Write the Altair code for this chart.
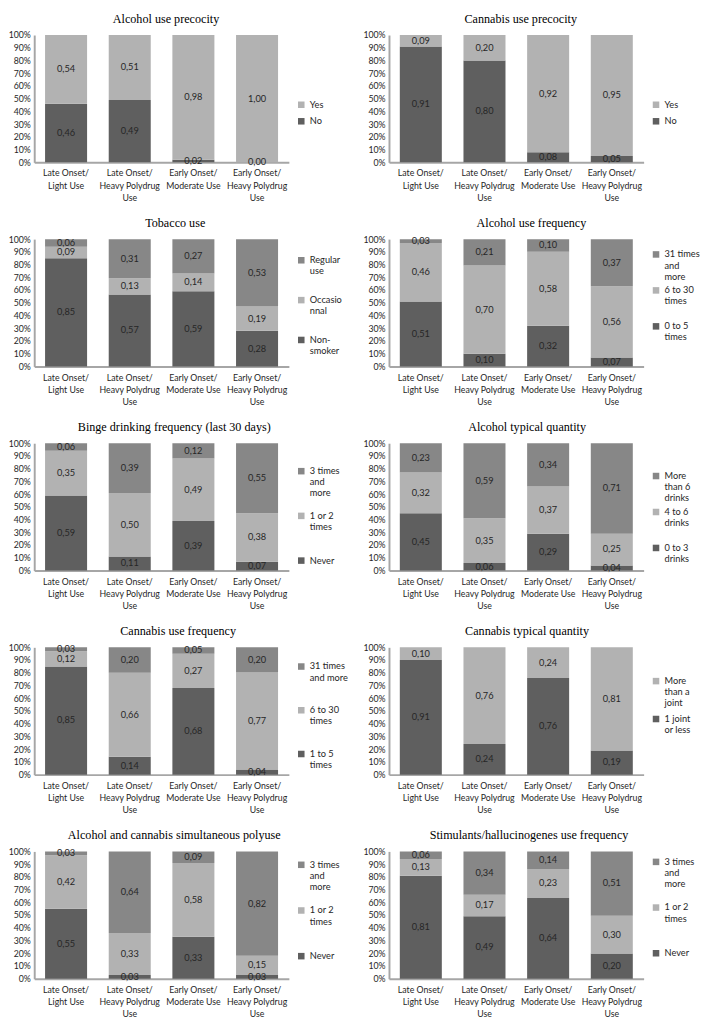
import altair as alt
import pandas as pd

# ---------------- data ----------------
groups = [
    "Late Onset/\nLight Use",
    "Late Onset/\nHeavy Polydrug\nUse",
    "Early Onset/\nModerate Use",
    "Early Onset/\nHeavy Polydrug\nUse",
]

# categories listed bottom -> top of the stack
alc_prec_title = "Alcohol use precocity"
alc_prec_cats = ["No", "Yes"]
alc_prec_vals = [[0.46, 0.49, 0.02, 0.00], [0.54, 0.51, 0.98, 1.00]]

can_prec_title = "Cannabis use precocity"
can_prec_cats = ["No", "Yes"]
can_prec_vals = [[0.91, 0.80, 0.08, 0.05], [0.09, 0.20, 0.92, 0.95]]

tob_title = "Tobacco use"
tob_cats = ["Non-\nsmoker", "Occasio\nnnal", "Regular\nuse"]
tob_vals = [[0.85, 0.57, 0.59, 0.28], [0.09, 0.13, 0.14, 0.19], [0.06, 0.31, 0.27, 0.53]]

alc_freq_title = "Alcohol use frequency"
alc_freq_cats = ["0 to 5\ntimes", "6 to 30\ntimes", "31 times\nand\nmore"]
alc_freq_vals = [[0.51, 0.10, 0.32, 0.07], [0.46, 0.70, 0.58, 0.56], [0.03, 0.21, 0.10, 0.37]]

binge_title = "Binge drinking frequency (last 30 days)"
binge_cats = ["Never", "1 or 2\ntimes", "3 times\nand\nmore"]
binge_vals = [[0.59, 0.11, 0.39, 0.07], [0.35, 0.50, 0.49, 0.38], [0.06, 0.39, 0.12, 0.55]]

alc_qty_title = "Alcohol typical quantity"
alc_qty_cats = ["0 to 3\ndrinks", "4 to 6\ndrinks", "More\nthan 6\ndrinks"]
alc_qty_vals = [[0.45, 0.06, 0.29, 0.04], [0.32, 0.35, 0.37, 0.25], [0.23, 0.59, 0.34, 0.71]]

can_freq_title = "Cannabis use frequency"
can_freq_cats = ["1 to 5\ntimes", "6 to 30\ntimes", "31 times\nand more"]
can_freq_vals = [[0.85, 0.14, 0.68, 0.04], [0.12, 0.66, 0.27, 0.77], [0.03, 0.20, 0.05, 0.20]]

can_qty_title = "Cannabis typical quantity"
can_qty_cats = ["1 joint\nor less", "More\nthan a\njoint"]
can_qty_vals = [[0.91, 0.24, 0.76, 0.19], [0.10, 0.76, 0.24, 0.81]]

poly_title = "Alcohol and cannabis simultaneous polyuse"
poly_cats = ["Never", "1 or 2\ntimes", "3 times\nand\nmore"]
poly_vals = [[0.55, 0.03, 0.33, 0.03], [0.42, 0.33, 0.58, 0.15], [0.03, 0.64, 0.09, 0.82]]

stim_title = "Stimulants/hallucinogenes use frequency"
stim_cats = ["Never", "1 or 2\ntimes", "3 times\nand\nmore"]
stim_vals = [[0.81, 0.49, 0.64, 0.20], [0.13, 0.17, 0.23, 0.30], [0.06, 0.34, 0.14, 0.51]]

y_ticks = [0.0, 0.1, 0.2, 0.3, 0.4, 0.5, 0.6, 0.7, 0.8, 0.9, 1.0]

panels = [
    (alc_prec_title, alc_prec_cats, alc_prec_vals),
    (can_prec_title, can_prec_cats, can_prec_vals),
    (tob_title, tob_cats, tob_vals),
    (alc_freq_title, alc_freq_cats, alc_freq_vals),
    (binge_title, binge_cats, binge_vals),
    (alc_qty_title, alc_qty_cats, alc_qty_vals),
    (can_freq_title, can_freq_cats, can_freq_vals),
    (can_qty_title, can_qty_cats, can_qty_vals),
    (poly_title, poly_cats, poly_vals),
    (stim_title, stim_cats, stim_vals),
]

# ---------------- style ----------------
DARK = "#5f5f5f"
LIGHT = "#b2b2b2"
MID = "#878787"
AXIS = "#a6a6a6"
TXT = "#262626"
FONT = "Lato"
W, H = 262, 131
LINE = 11
# legend placement per panel: first entry offset from plot top, entry pitch
leg_first = [72, 72, 22, 16, 29, 34, 20, 35, 14, 11]
leg_pitch = [17, 17, 41, 36, 45, 36, 45, 38, 46, 46]


def panel(i, title, cats, vals):
    rows = []
    for ci, (c, vs) in enumerate(zip(cats, vals)):
        for g, v in zip(groups, vs):
            rows.append({"group": g, "cat": c, "rank": ci, "value": v,
                         "label": f"{v:.2f}".replace(".", ",")})
    df = pd.DataFrame(rows)
    rng = [LIGHT, DARK] if len(cats) == 2 else [MID, LIGHT, DARK]
    domain = list(reversed(cats))
    maxlines = max(c.count("\n") + 1 for c in cats)
    row_pad = max(leg_pitch[i] - maxlines * LINE, 0)
    leg_y = leg_first[i] - 5

    base = alt.Chart(df).transform_stack(
        stack="value", groupby=["group"],
        sort=[alt.SortField(field="rank", order="ascending")],
        as_=["y0", "y1"], offset="normalize",
    ).transform_calculate(mid="(datum.y0 + datum.y1) / 2")

    xaxis = alt.Axis(labelAngle=0, labelExpr="split(datum.label, '\\n')",
                     ticks=False, domainColor=AXIS, domainWidth=2,
                     labelFont=FONT, labelFontSize=9, labelColor=TXT,
                     labelLineHeight=12.5, labelPadding=7, labelLimit=200)
    xscale = alt.Scale(paddingInner=0.34, paddingOuter=0.17)
    yscale = alt.Scale(domain=[0, 1])
    yaxis = alt.Axis(format="%", values=y_ticks,
                     grid=False, ticks=False, domainColor=AXIS, domainWidth=2,
                     labelFont=FONT, labelFontSize=9, labelColor=TXT,
                     labelPadding=4, labelOverlap=False, labelFlush=False)
    bars = base.mark_bar().encode(
        x=alt.X("group:N", sort=groups, title=None, scale=xscale, axis=xaxis),
        y=alt.Y("y0:Q", scale=yscale, title=None, axis=yaxis),
        y2="y1:Q",
        color=alt.Color("cat:N", scale=alt.Scale(domain=domain, range=rng),
                        legend=alt.Legend(title=None, orient="none", legendX=W + 8,
                                          legendY=leg_y, symbolType="square",
                                          symbolSize=45, symbolStrokeWidth=0,
                                          labelFont=FONT, labelFontSize=9.5,
                                          labelColor=TXT, labelLimit=80,
                                          labelExpr="split(datum.label, '\\n')",
                                          gridAlign="all", rowPadding=row_pad)),
    )
    text = base.mark_text(font=FONT, fontSize=9.5, color=TXT).encode(
        x=alt.X("group:N", sort=groups, title=None, scale=xscale, axis=xaxis),
        y=alt.Y("mid:Q", scale=yscale, title=None, axis=yaxis),
        text="label:N",
    )
    return alt.layer(bars, text).properties(
        width=W, height=H,
        title=alt.TitleParams(title, font="Liberation Serif", fontSize=12.5,
                              fontWeight="normal", color="#000000", offset=6,
                              frame="bounds", anchor="middle"),
    )


chart = alt.concat(*[panel(i, *p) for i, p in enumerate(panels)], columns=2,
                   spacing=15).resolve_scale(
    color="independent"
).properties(padding={"left": 0, "top": -10, "right": 0, "bottom": 0}).configure_view(
    stroke=None
).configure_axisY(labelOverlap=False)

chart.save("out.html", embed_options={"renderer": "svg", "actions": False})
